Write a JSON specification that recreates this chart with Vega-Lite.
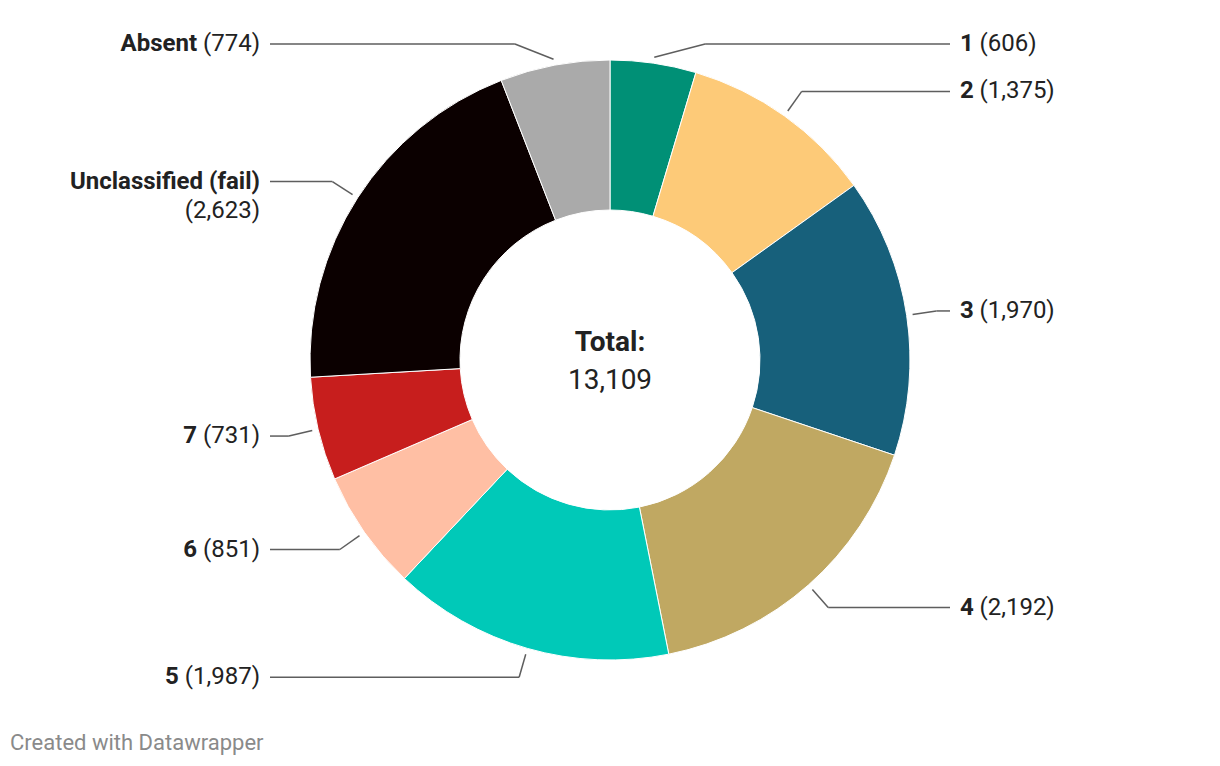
{
  "$schema": "https://vega.github.io/schema/vega-lite/v6.json",
  "width": 1220,
  "height": 766,
  "padding": 0,
  "autosize": {"type": "none"},
  "background": "white",
  "config": {"view": {"stroke": null}, "font": "Roboto"},
  "data": {
    "values": [
      {"category": "1", "value": 606},
      {"category": "2", "value": 1375},
      {"category": "3", "value": 1970},
      {"category": "4", "value": 2192},
      {"category": "5", "value": 1987},
      {"category": "6", "value": 851},
      {"category": "7", "value": 731},
      {"category": "Unclassified (fail)", "value": 2623},
      {"category": "Absent", "value": 774}
    ]
  },
  "transform": [
    {"window": [{"op": "sum", "field": "value", "as": "cum"}], "frame": [null, 0]},
    {"joinaggregate": [{"op": "sum", "field": "value", "as": "total"}]},
    {"calculate": "(datum.cum - datum.value / 2) / datum.total * 2 * PI", "as": "mid"},
    {"calculate": "sin(datum.mid) >= 0 ? 1 : -1", "as": "side"},
    {"calculate": "306 * sin(datum.mid)", "as": "x0"},
    {"calculate": "-306 * cos(datum.mid)", "as": "y0"},
    {"calculate": "max(-316, -330 * cos(datum.mid))", "as": "ly"},
    {"calculate": "datum.side * sqrt(330 * 330 - datum.ly * datum.ly)", "as": "ex"},
    {"calculate": "datum.side * 340", "as": "lx"},
    {"calculate": "datum.side * 350", "as": "tx"},
    {"calculate": "'(' + format(datum.value, ',') + ')'", "as": "valText"},
    {"calculate": "(length(toString(datum.value)) * 0.5615 + (datum.value >= 1000 ? 0.197 : 0) + 0.69) * 24", "as": "vw"},
    {"calculate": "length(datum.category) * 0.5615 * 24", "as": "nw"},
    {"calculate": "length(datum.category) > 12", "as": "wrap"},
    {"calculate": "datum.side > 0 ? datum.tx : (datum.wrap ? datum.tx : datum.tx - datum.vw - 6)", "as": "nameX"},
    {"calculate": "datum.side > 0 ? datum.tx + datum.nw + 6 : datum.tx", "as": "valX"},
    {"calculate": "datum.wrap ? datum.ly + 29 : datum.ly", "as": "valY"}
  ],
  "layer": [
    {
      "mark": {"type": "arc", "outerRadius": 300, "innerRadius": 150, "stroke": "white", "strokeWidth": 1},
      "encoding": {
        "theta": {"field": "value", "type": "quantitative", "stack": true},
        "order": {"field": "cum", "type": "quantitative"},
        "color": {
          "field": "category",
          "type": "nominal",
          "legend": null,
          "scale": {
            "domain": ["1", "2", "3", "4", "5", "6", "7", "Unclassified (fail)", "Absent"],
            "range": ["#009076", "#fdca78", "#17607b", "#c0a862", "#00c9b8", "#ffbfa4", "#c71e1d", "#0b0000", "#aaaaaa"]
          }
        },
        "x": {"datum": 0, "type": "quantitative", "scale": {"domain": [-610, 610], "nice": false, "zero": false}, "axis": null},
        "y": {"datum": 0, "type": "quantitative", "scale": {"domain": [-360, 406], "reverse": true, "nice": false, "zero": false}, "axis": null}
      }
    },
    {
      "mark": {"type": "rule", "color": "#5e5e5e", "strokeWidth": 1.5},
      "encoding": {
        "x": {"field": "x0", "type": "quantitative"},
        "y": {"field": "y0", "type": "quantitative"},
        "x2": {"field": "ex"},
        "y2": {"field": "ly"}
      }
    },
    {
      "mark": {"type": "rule", "color": "#5e5e5e", "strokeWidth": 1.5},
      "encoding": {
        "x": {"field": "ex", "type": "quantitative"},
        "y": {"field": "ly", "type": "quantitative"},
        "x2": {"field": "lx"},
        "y2": {"field": "ly"}
      }
    },
    {
      "transform": [{"filter": "datum.side > 0"}],
      "mark": {"type": "text", "align": "left", "baseline": "middle", "fontSize": 24, "fontWeight": "bold", "color": "#222222"},
      "encoding": {
        "x": {"field": "nameX", "type": "quantitative"},
        "y": {"field": "ly", "type": "quantitative"},
        "text": {"field": "category"}
      }
    },
    {
      "transform": [{"filter": "datum.side > 0"}],
      "mark": {"type": "text", "align": "left", "baseline": "middle", "fontSize": 24, "color": "#222222"},
      "encoding": {
        "x": {"field": "valX", "type": "quantitative"},
        "y": {"field": "valY", "type": "quantitative"},
        "text": {"field": "valText"}
      }
    },
    {
      "transform": [{"filter": "datum.side < 0"}],
      "mark": {"type": "text", "align": "right", "baseline": "middle", "fontSize": 24, "fontWeight": "bold", "color": "#222222"},
      "encoding": {
        "x": {"field": "nameX", "type": "quantitative"},
        "y": {"field": "ly", "type": "quantitative"},
        "text": {"field": "category"}
      }
    },
    {
      "transform": [{"filter": "datum.side < 0"}],
      "mark": {"type": "text", "align": "right", "baseline": "middle", "fontSize": 24, "color": "#222222"},
      "encoding": {
        "x": {"field": "valX", "type": "quantitative"},
        "y": {"field": "valY", "type": "quantitative"},
        "text": {"field": "valText"}
      }
    },
    {
      "transform": [{"aggregate": [{"op": "sum", "field": "value", "as": "sumTotal"}]}],
      "mark": {"type": "text", "align": "center", "baseline": "middle", "fontSize": 28, "fontWeight": "bold", "color": "#222222", "text": "Total:"},
      "encoding": {
        "x": {"datum": 0, "type": "quantitative"},
        "y": {"datum": -17, "type": "quantitative"}
      }
    },
    {
      "transform": [{"aggregate": [{"op": "sum", "field": "value", "as": "sumTotal"}]}],
      "mark": {"type": "text", "align": "center", "baseline": "middle", "fontSize": 28, "color": "#222222"},
      "encoding": {
        "x": {"datum": 0, "type": "quantitative"},
        "y": {"datum": 21, "type": "quantitative"},
        "text": {"field": "sumTotal", "type": "quantitative", "format": ","}
      }
    },
    {
      "transform": [{"aggregate": [{"op": "count", "as": "n"}]}],
      "mark": {"type": "text", "align": "left", "baseline": "middle", "fontSize": 22, "color": "#8a8a8a", "text": "Created with Datawrapper"},
      "encoding": {
        "x": {"datum": -600, "type": "quantitative"},
        "y": {"datum": 383, "type": "quantitative"}
      }
    }
  ]
}
